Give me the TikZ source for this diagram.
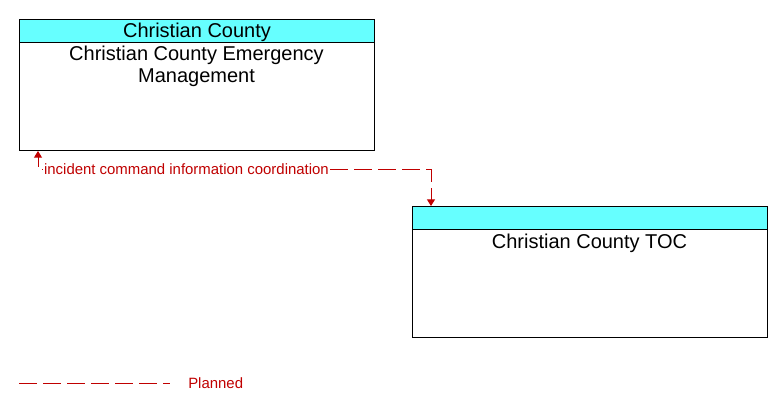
\documentclass[tikz,border=0pt]{standalone}
\usepackage{fontspec}
\setmainfont{Liberation Sans}
\usetikzlibrary{arrows.meta}
\definecolor{hdr}{RGB}{102,255,255}
\definecolor{flow}{RGB}{192,0,0}
\begin{document}
\begin{tikzpicture}[x=0.75pt,y=-0.75pt,
  box/.style={draw=black, line width=0.75pt, fill=white, minimum width=266.25pt, minimum height=98.25pt, inner sep=0pt, anchor=north west},
  hdrbox/.style={draw=black, line width=0.75pt, fill=hdr, minimum width=266.25pt, minimum height=16.875pt, inner sep=0pt, anchor=north west, text height=10.5pt, text depth=0pt, font=\fontsize{15}{17}\selectfont},
  title/.style={font=\fontsize{15}{16.5}\selectfont, align=center, anchor=base, inner sep=0pt},
  flowline/.style={draw=flow, line width=0.75pt, dash pattern=on 13.5pt off 4.5pt, dash phase=6.3pt},
  flowlabel/.style={text=flow, font=\fontsize{11.2}{13}\selectfont, fill=white, inner sep=1pt},
  tips/.style={{Triangle[length=5pt,width=6pt]}-{Triangle[length=5pt,width=6pt]}}
]
\useasboundingbox (0,0) rectangle (783,412);
% box 1
\node[box] (b1) at (19,19) {};
\node[hdrbox] (h1) at (19,19) {Christian County};
\node[title] (t1) at (196.5,82.7) {Christian County Emergency\\Management};
% box 2
\node[box] (b2) at (412,206) {};
\node[hdrbox] (h2) at (412,206) {};
\node[title] (t2) at (589.5,248.3) {Christian County TOC};
% connector
\coordinate (p1) at (38,169);
\coordinate (p2) at (431,169);
\draw[flowline, tips] (b1.south -| p1) -- (p1) -- (p2) -- (b2.north -| p2);
\node[flowlabel, anchor=west] (lab) at (42.5,169) {incident command information coordination};
% legend
\coordinate (l1) at (19,383);
\coordinate (l2) at (170,383);
\draw[flowline, dash phase=0pt] (l1) -- (l2);
\node[text=flow, font=\fontsize{11.2}{13}\selectfont, anchor=base west, inner sep=0pt] (leg) at (188,388.5) {Planned};
\end{tikzpicture}
\end{document}
